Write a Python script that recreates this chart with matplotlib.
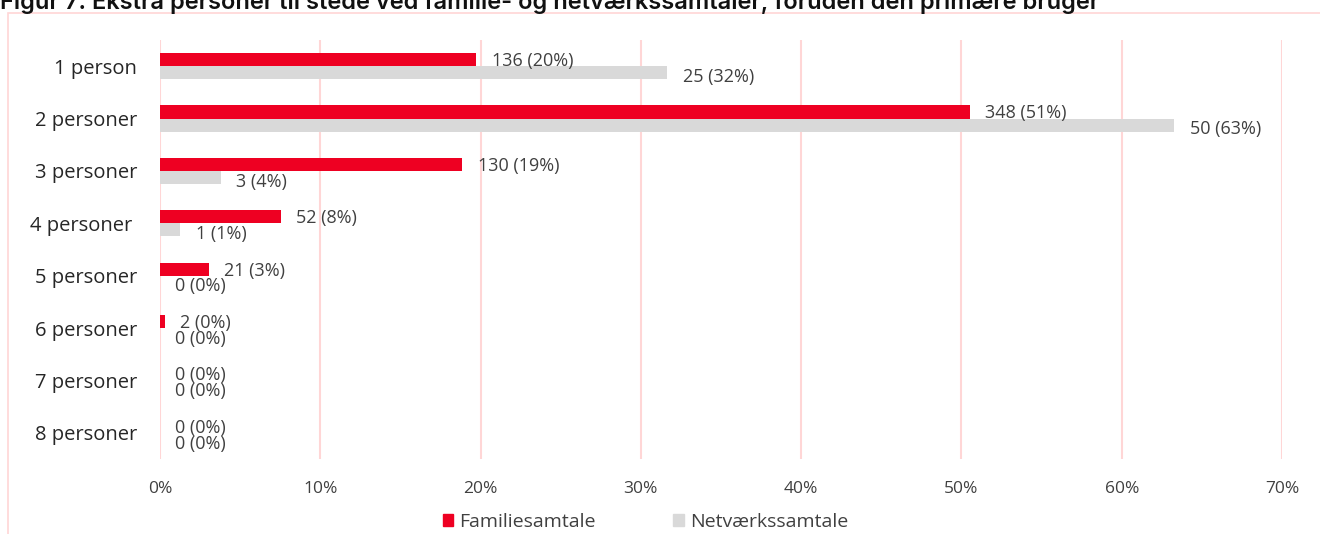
import matplotlib.pyplot as plt
from matplotlib.patches import Patch, Rectangle
from matplotlib.ticker import PercentFormatter

# data
categories = ['1 person', '2 personer', '3 personer', '4 personer ', '5 personer',
              '6 personer', '7 personer', '8 personer']
familie_n = [136, 348, 130, 52, 21, 2, 0, 0]
netvaerk_n = [25, 50, 3, 1, 0, 0, 0, 0]
series_names = ['Familiesamtale', 'Netværkssamtale']
title = 'Figur 7: Ekstra personer til stede ved familie- og netværkssamtaler, foruden den primære bruger'

RED = '#EE0022'
GREY = '#D9D9D9'
GRID = '#FFD6D6'
TXT = '#404040'

familie_share = [n / sum(familie_n) for n in familie_n]
netvaerk_share = [n / sum(netvaerk_n) for n in netvaerk_n]

plt.rcParams['font.family'] = ['Open Sans', 'DejaVu Sans']

fig = plt.figure(figsize=(13.2, 5.34), dpi=100)
# light pink frame around the chart area
fig.patches.append(Rectangle((8 / 1320, -0.1), 1.2, 1 - 13 / 534 + 0.1, transform=fig.transFigure,
                             fill=False, edgecolor=GRID, lw=1.2))
fig.text(0.0, 1 - 9 / 534, title, fontsize=17, fontweight='semibold', color='#111111',
         family=['Inter', 'DejaVu Sans'], ha='left', va='baseline')

ax = fig.add_axes([160 / 1320, 75 / 534, 1122 / 1320, 419 / 534])
y = list(range(len(categories)))
h = 0.25
ax.barh([v - h / 2 for v in y], familie_share, height=h, color=RED, zorder=3)
ax.barh([v + h / 2 for v in y], netvaerk_share, height=h, color=GREY, zorder=3)

for i in y:
    ax.annotate(f'{familie_n[i]} ({familie_share[i]:.0%})', (familie_share[i], i - h / 2),
                xytext=(11, -1), textcoords='offset points', va='center', ha='left',
                fontsize=13, color=TXT)
    ax.annotate(f'{netvaerk_n[i]} ({netvaerk_share[i]:.0%})', (netvaerk_share[i], i + h / 2),
                xytext=(11, -3), textcoords='offset points', va='center', ha='left',
                fontsize=13, color=TXT)

ax.set_xlim(0, 0.7)
ax.set_ylim(len(categories) - 0.5, -0.5)
ax.set_xticks([k / 10 for k in range(8)])
ax.xaxis.set_major_formatter(PercentFormatter(1.0, decimals=0))
ax.set_yticks(y)
ax.set_yticklabels(categories, fontsize=14.5, color='#262626')
ax.tick_params(axis='x', labelsize=12.5, labelcolor=TXT, length=0, pad=16)
ax.tick_params(axis='y', length=0, pad=16.5)
ax.grid(axis='x', color=GRID, lw=1.5, zorder=0)
for s in ax.spines.values():
    s.set_visible(False)

handles = [Patch(color=RED), Patch(color=GREY)]
fig.legend(handles, series_names, loc='center', bbox_to_anchor=(0.489, 12 / 534), ncol=2,
           frameon=False, fontsize=14, handlelength=0.55, handleheight=0.55,
           handletextpad=0.3, columnspacing=4.0, labelcolor=TXT)

fig.savefig('out.png', dpi=100)
